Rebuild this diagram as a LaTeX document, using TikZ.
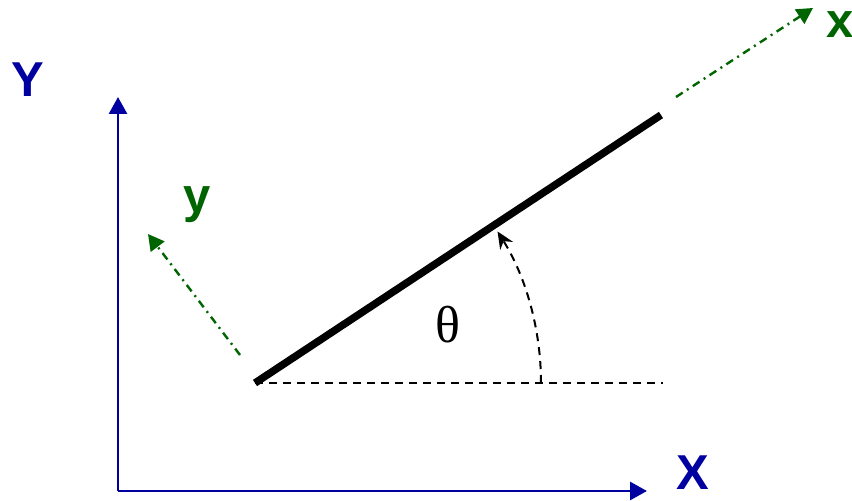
\documentclass[tikz,border=0pt]{standalone}
\usepackage{fontspec}
\setmainfont{Liberation Serif}
\newfontfamily\labfont{Liberation Sans}
\usetikzlibrary{arrows.meta}
\definecolor{axblue}{RGB}{0,0,160}
\definecolor{bodygreen}{RGB}{0,100,0}
\tikzset{
  axis/.style={draw=axblue,line width=2.8pt,-{Triangle[length=17pt,width=18pt]}},
  bodyaxis/.style={draw=bodygreen,line width=2.4pt,dash pattern=on 8pt off 5pt on 2pt off 5pt,-{Triangle[length=16pt,width=17pt]}},
  biglab/.style={font=\labfont\bfseries\fontsize{49}{50}\selectfont,inner sep=0pt},
  rod/.style={line width=7.5pt},
  refline/.style={line width=2pt,dash pattern=on 8pt off 6pt},
}
\begin{document}
\begin{tikzpicture}[x=1pt,y=1pt]
\useasboundingbox (0,0) rectangle (852,501);
\coordinate (A0) at (118,10);
\coordinate (Ytip) at (118,404);
\coordinate (Xtip) at (647,10);
\coordinate (O) at (255,118);
\coordinate (E) at (661,386);
\coordinate (H) at (663,118);
\coordinate (AS) at (541,118);
\coordinate (xs) at (676,404);
\coordinate (xe) at (813,493);
\coordinate (ys) at (240,146);
\coordinate (ye) at (148,267);
\draw[axis] (A0) -- (Ytip);
\draw[axis] (A0) -- (Xtip);
\draw[refline] (O) -- (H);
\draw[rod] (O) -- (E);
\draw[refline,-{Stealth[length=17pt,width=15pt]}] (AS) arc[start angle=0,end angle=32,radius=286];
\draw[bodyaxis] (xs) -- (xe);
\draw[bodyaxis] (ys) -- (ye);
\node[biglab,text=axblue] (lY) at (28,421) {Y};
\node[biglab,text=axblue] (lX) at (693,28) {X};
\node[biglab,text=bodygreen] (lx) at (840,476) {x};
\node[biglab,text=bodygreen,anchor=base] (ly) at (197,288) {y};
\node[inner sep=0pt,font=\fontsize{52}{54}\selectfont] (th) at (448,176) {θ};
\end{tikzpicture}
\end{document}
